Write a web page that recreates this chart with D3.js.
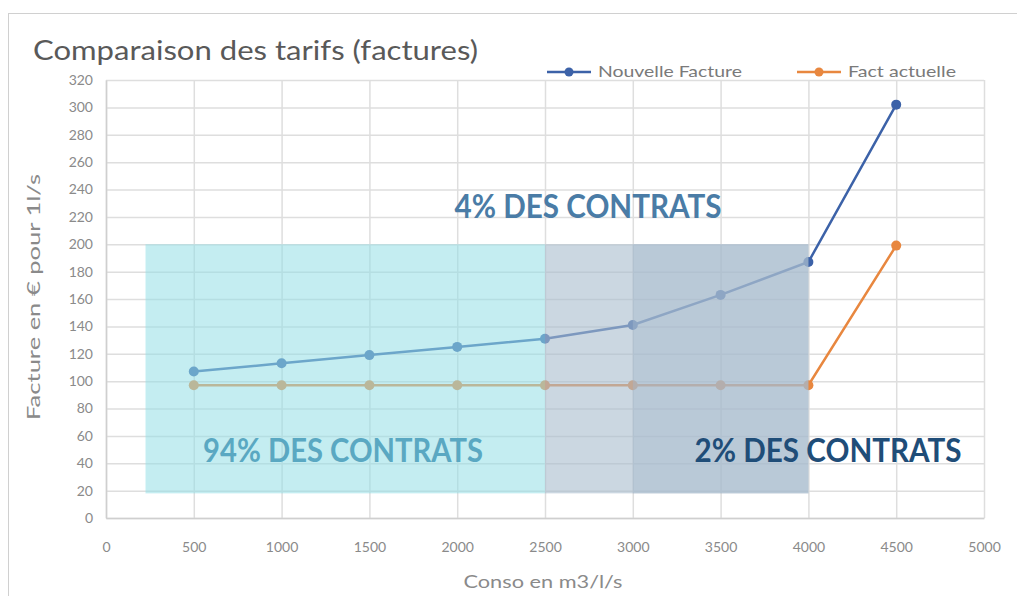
<!DOCTYPE html>
<html>
<head>
<meta charset="utf-8">
<script src="https://cdn.jsdelivr.net/npm/d3@7"></script>
<style>
  body { margin: 0; background: #fff; }
  text { font-family: Lato, "Open Sans", sans-serif; }
</style>
</head>
<body>
<script>
// data
const conso = [500, 1000, 1500, 2000, 2500, 3000, 3500, 4000, 4500];
const nouvelleFacture = [107, 113, 119, 125, 131, 141, 163, 187, 302];
const factActuelle = [97, 97, 97, 97, 97, 97, 97, 97, 199];
const seriesNames = ["Nouvelle Facture", "Fact actuelle"];
const xTicks = [0, 500, 1000, 1500, 2000, 2500, 3000, 3500, 4000, 4500, 5000];
const yTicks = d3.range(0, 321, 20);

// shaded zones : [from, to] in conso, [low, high] in euros
const zoneFrom = [225, 2500, 3000];
const zoneTo = [2500, 4000, 4000];
const zoneLow = [18, 18, 18];
const zoneHigh = [200, 200, 200];
const zoneLabels = ["94% DES CONTRATS", "4% DES CONTRATS", "2% DES CONTRATS"];
const labelX = [1350, 2745, 4112];
const labelY = [41, 219, 41];

const w = 1017, h = 596;
const svg = d3.select("body").append("svg")
    .attr("width", w)
    .attr("height", h);

// outer frame
svg.append("rect")
    .attr("x", 8.5).attr("y", 13.5)
    .attr("width", w).attr("height", h)
    .attr("fill", "none").attr("stroke", "#d0d0d0");

const x = d3.scaleLinear().domain([0, 5000]).range([106, 984]);
const y = d3.scaleLinear().domain([0, 320]).range([518, 80]);

// grid
svg.append("g").selectAll("line")
    .data(yTicks)
    .enter().append("line")
    .attr("x1", x(0)).attr("x2", x(5000))
    .attr("y1", d => y(d) + 0.5).attr("y2", d => y(d) + 0.5)
    .attr("stroke", "#dedede").attr("stroke-width", 1.5);

svg.append("g").selectAll("line")
    .data(xTicks)
    .enter().append("line")
    .attr("x1", d => x(d) + 0.5).attr("x2", d => x(d) + 0.5)
    .attr("y1", y(320)).attr("y2", y(0))
    .attr("stroke", "#dedede").attr("stroke-width", 1.5);

// axes
const xAxis = d3.axisBottom(x).tickValues(xTicks).tickFormat(d3.format("d")).tickSize(0).tickPadding(24);
svg.append("g")
    .attr("transform", "translate(0," + y(0) + ")")
    .call(xAxis)
    .call(g => g.select(".domain").attr("stroke", "#cfcfcf").attr("stroke-width", 1.5))
    .selectAll("text")
    .attr("fill", "#8a8a8a").style("font-size", "14px");

const yAxis = d3.axisLeft(y).tickValues(yTicks).tickSize(0).tickPadding(13);
svg.append("g")
    .attr("transform", "translate(" + x(0) + ",0)")
    .call(yAxis)
    .call(g => g.select(".domain").attr("stroke", "#cfcfcf").attr("stroke-width", 1.5))
    .selectAll("text")
    .attr("fill", "#8a8a8a").style("font-size", "14px");

// lines
const pts = (vals) => conso.map((c, i) => [c, vals[i]]);
const line = d3.line().x(d => x(d[0])).y(d => y(d[1]));
const colors = ["#3c62a8", "#e8873f"];

[nouvelleFacture, factActuelle].forEach((vals, k) => {
    svg.append("path")
        .datum(pts(vals))
        .attr("d", line)
        .attr("fill", "none")
        .attr("stroke", colors[k])
        .attr("stroke-width", 2.5);
    svg.append("g").selectAll("circle")
        .data(pts(vals))
        .enter().append("circle")
        .attr("cx", d => x(d[0])).attr("cy", d => y(d[1]))
        .attr("r", 5)
        .attr("fill", colors[k]);
});

// shaded zones drawn on top, semi transparent
const zoneColors = ["#93dfe6", "#a8bccd", "#a3b8cd"];
const zoneOpacity = [0.55, 0.6, 0.45];
svg.append("g").selectAll("rect")
    .data(zoneFrom)
    .enter().append("rect")
    .attr("x", (d, i) => x(zoneFrom[i]))
    .attr("width", (d, i) => x(zoneTo[i]) - x(zoneFrom[i]))
    .attr("y", (d, i) => y(zoneHigh[i]))
    .attr("height", (d, i) => y(zoneLow[i]) - y(zoneHigh[i]))
    .attr("fill", (d, i) => zoneColors[i])
    .attr("fill-opacity", (d, i) => zoneOpacity[i]);

const labelColors = ["#5aa8c2", "#4a7ca6", "#1f4d78"];
const labelWidths = [280, 267, 267];
svg.append("g").selectAll("text")
    .data(zoneLabels)
    .enter().append("text")
    .attr("x", (d, i) => x(labelX[i]))
    .attr("y", (d, i) => y(labelY[i]))
    .attr("text-anchor", "middle")
    .attr("textLength", (d, i) => labelWidths[i])
    .attr("lengthAdjust", "spacingAndGlyphs")
    .attr("fill", (d, i) => labelColors[i])
    .style("font-size", "33px")
    .style("font-weight", "bold")
    .text(d => d);

// title
svg.append("text")
    .attr("x", 33).attr("y", 60)
    .attr("fill", "#595959")
    .attr("textLength", 445)
    .attr("lengthAdjust", "spacingAndGlyphs")
    .style("font-size", "27px")
    .text("Comparaison des tarifs (factures)");

// axis titles
svg.append("text")
    .attr("transform", "translate(40," + 297 + ") rotate(-90)")
    .attr("text-anchor", "middle")
    .attr("textLength", 246)
    .attr("lengthAdjust", "spacingAndGlyphs")
    .attr("fill", "#8a8a8a")
    .style("font-size", "17px")
    .text("Facture en € pour 1l/s");

svg.append("text")
    .attr("x", 543).attr("y", 588)
    .attr("text-anchor", "middle")
    .attr("textLength", 159)
    .attr("lengthAdjust", "spacingAndGlyphs")
    .attr("fill", "#8a8a8a")
    .style("font-size", "17px")
    .text("Conso en m3/l/s");

// legend
const legX = [547, 797];
const legW = [144, 108];
const legend = svg.append("g").selectAll("g")
    .data(seriesNames)
    .enter().append("g")
    .attr("transform", (d, i) => "translate(" + legX[i] + ",72)");
legend.append("line")
    .attr("x1", 0).attr("x2", 44)
    .attr("stroke", (d, i) => colors[i]).attr("stroke-width", 2.5);
legend.append("circle")
    .attr("cx", 22).attr("r", 4.5)
    .attr("fill", (d, i) => colors[i]);
legend.append("text")
    .attr("x", 51).attr("y", 5)
    .attr("textLength", (d, i) => legW[i])
    .attr("lengthAdjust", "spacingAndGlyphs")
    .attr("fill", "#7a7a7a")
    .style("font-size", "16px")
    .text(d => d);
</script>
</body>
</html>
